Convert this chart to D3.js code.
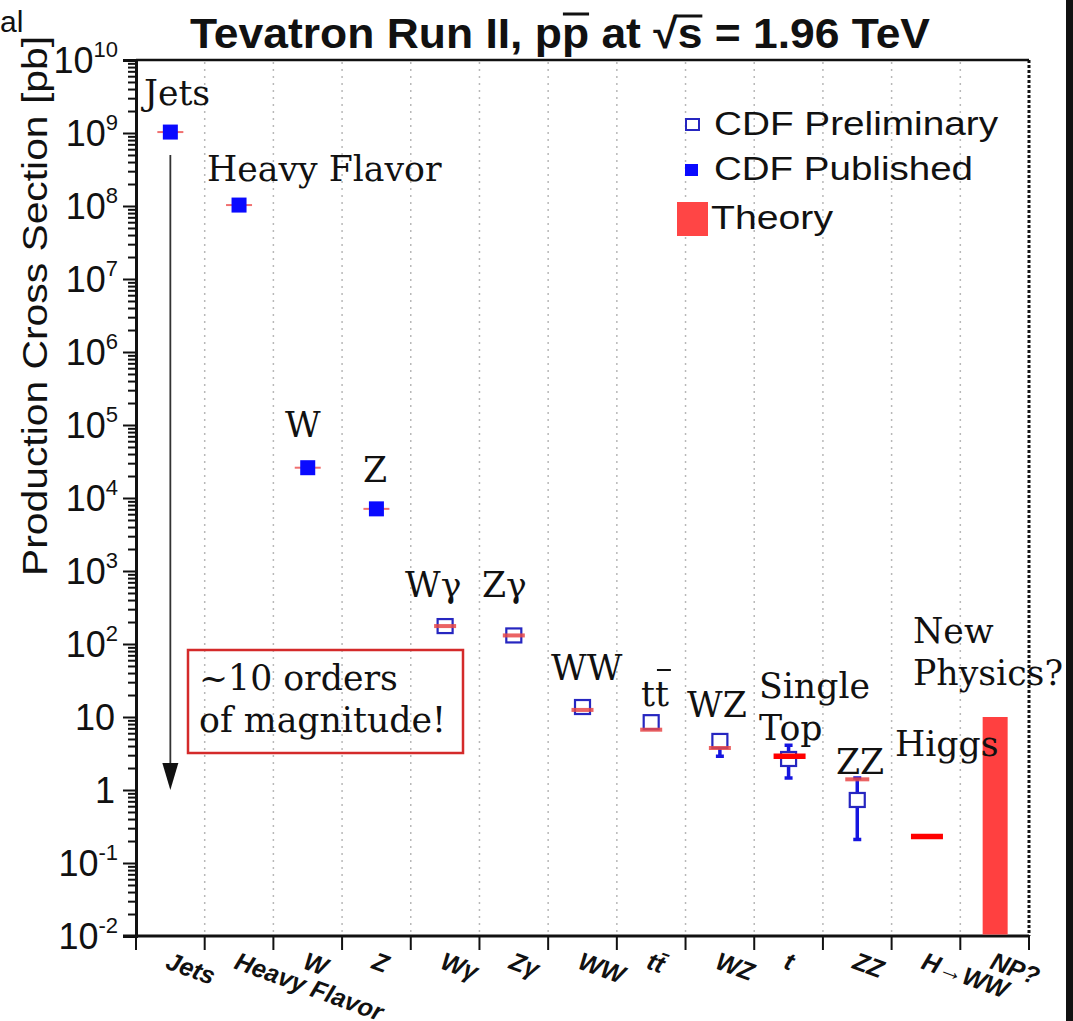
<!doctype html>
<html lang="en">
<head>
<meta charset="utf-8">
<title>Tevatron Run II cross sections</title>
<script src="https://cdn.jsdelivr.net/npm/d3@7"></script>
<style>
  body { margin: 0; background: #fff; }
  .serif { font-family: "DejaVu Serif", serif; fill: #111; font-size: 34.7px; }
  .sans { font-family: "Liberation Sans", Arial, sans-serif; fill: #111; }
</style>
</head>
<body>
<svg id="chart" width="1073" height="1021"></svg>
<script>
// processes along the x axis
var categories = ["Jets", "Heavy Flavor", "W", "Z", "Wγ", "Zγ", "WW", "tt̄", "WZ", "t", "ZZ", "H→WW", "NP?"];
// measured cross sections [pb] (null = no measurement)
var measured = [1.03e9, 1.03e8, 2.6e4, 7.1e3, 176, 131, 13.7, 8.5, 4.7, 2.66, 0.73, null, null];
var errLow   = [null, null, null, null, null, null, null, null, 2.9, 1.46, 0.21, null, null];
var errHigh  = [null, null, null, null, null, null, null, null, 5.2, 4.1, 1.46, null, null];
// true = CDF published, false = CDF preliminary
var published = [true, true, true, true, false, false, false, false, false, false, false, null, null];
// theory predictions [pb]
var theory = [1.03e9, 1.03e8, 2.6e4, 7.1e3, 176, 131, 12.5, 6.7, 3.76, 2.9, 1.4, 0.23, 10];
// y axis decades
var yExponents = [-2, -1, 0, 1, 2, 3, 4, 5, 6, 7, 8, 9, 10];

var svg = d3.select("#chart");

var x = d3.scaleBand().domain(categories).range([136, 1029]);
var y = d3.scaleLog().domain([1e-2, 1e10]).range([936, 60]);
var bw = x.bandwidth();
function cx(c) { return x(c) + bw / 2; }

// dotted vertical grid at bin edges
svg.append("g").selectAll("line")
  .data(categories.slice(1))
  .enter().append("line")
  .attr("x1", function(d) { return x(d); })
  .attr("x2", function(d) { return x(d); })
  .attr("y1", 62).attr("y2", 934)
  .style("stroke", "#b8b8b8")
  .style("stroke-width", 1.5)
  .style("stroke-dasharray", "2,5");

// frame
svg.append("line").attr("x1", 136).attr("x2", 1029).attr("y1", 60).attr("y2", 60)
  .style("stroke", "#111").style("stroke-width", 2.5);
svg.append("line").attr("x1", 1029).attr("x2", 1029).attr("y1", 60).attr("y2", 936)
  .style("stroke", "#111").style("stroke-width", 3).style("stroke-dasharray", "3,2");

// y axis: major + minor ticks
var majors = yExponents.map(function(e) { return Math.pow(10, e); });
var minors = [];
yExponents.slice(0, -1).forEach(function(e) {
  for (var k = 2; k <= 9; k++) minors.push(k * Math.pow(10, e));
});
var yMajor = svg.append("g").attr("transform", "translate(136,0)")
  .call(d3.axisLeft(y).tickValues(majors).tickSize(13).tickFormat(""));
var yMinor = svg.append("g").attr("transform", "translate(136,0)")
  .call(d3.axisLeft(y).tickValues(minors).tickSize(8).tickFormat(""));
svg.selectAll(".tick line").style("stroke", "#111").style("stroke-width", 2);
yMinor.select(".domain").remove();
yMajor.select(".domain").style("stroke", "#111").style("stroke-width", 3);

// y tick labels
var yLab = svg.append("g").attr("class", "sans");
yExponents.forEach(function(e) {
  var t = yLab.append("text")
    .attr("x", 118).attr("y", y(Math.pow(10, e)) + 13)
    .style("text-anchor", "end").style("font-size", "36px");
  if (e === 0) { t.attr("x", 115).text("1"); }
  else if (e === 1) { t.attr("x", 115).text("10"); }
  else {
    t.append("tspan").text("10");
    t.append("tspan").attr("dy", -16).style("font-size", "22px").text(e);
  }
});

// y axis title
svg.append("text").attr("class", "sans")
  .attr("transform", "translate(47,306) rotate(-90)")
  .style("text-anchor", "middle").style("font-size", "35px")
  .attr("textLength", 540).attr("lengthAdjust", "spacingAndGlyphs")
  .text("Production Cross Section [pb]");

// x axis
svg.append("line").attr("x1", 123).attr("x2", 1029).attr("y1", 936).attr("y2", 936)
  .style("stroke", "#111").style("stroke-width", 3);
var edges = categories.map(function(c) { return x(c); }).concat([x.range()[1]]);
svg.append("g").selectAll("line").data(edges).enter().append("line")
  .attr("x1", function(d) { return d; }).attr("x2", function(d) { return d; })
  .attr("y1", 936).attr("y2", 950)
  .style("stroke", "#111").style("stroke-width", 2);
svg.append("g").selectAll("text").data(categories).enter().append("text")
  .attr("class", "sans")
  .attr("transform", function(d) { return "translate(" + (cx(d) - 6) + ",968) rotate(20)"; })
  .style("font-size", "25px").style("font-weight", "bold").style("font-style", "italic")
  .text(function(d) { return d; });

// theory for published points sits behind the squares
var thin = categories.filter(function(c, i) { return published[i] === true; });
svg.append("g").selectAll("line").data(thin).enter().append("line")
  .attr("x1", function(d) { return cx(d) - 13; }).attr("x2", function(d) { return cx(d) + 13; })
  .attr("y1", function(d) { return y(theory[categories.indexOf(d)]); })
  .attr("y2", function(d) { return y(theory[categories.indexOf(d)]); })
  .style("stroke", "#f07070").style("stroke-width", 2);

// error bars
categories.forEach(function(c, i) {
  if (errLow[i] === null) return;
  var g = svg.append("g").style("stroke", "#1515e0").style("stroke-width", 3.5);
  g.append("line").attr("x1", cx(c)).attr("x2", cx(c)).attr("y1", y(errHigh[i])).attr("y2", y(errLow[i]));
  g.append("line").attr("x1", cx(c) - 4).attr("x2", cx(c) + 4).attr("y1", y(errHigh[i])).attr("y2", y(errHigh[i]));
  g.append("line").attr("x1", cx(c) - 4).attr("x2", cx(c) + 4).attr("y1", y(errLow[i])).attr("y2", y(errLow[i]));
});

// measurement squares
categories.forEach(function(c, i) {
  if (measured[i] === null) return;
  if (published[i]) {
    svg.append("rect").attr("x", cx(c) - 7.5).attr("y", y(measured[i]) - 7.5)
      .attr("width", 15).attr("height", 15).style("fill", "#0a0aff");
  } else {
    svg.append("rect").attr("x", cx(c) - 7.5).attr("y", y(measured[i]) - 7)
      .attr("width", 15).attr("height", 14)
      .style("fill", "#fff").style("stroke", "#2626c0").style("stroke-width", 2.2);
  }
});

// remaining theory marks
categories.forEach(function(c, i) {
  if (published[i] === true) return;
  if (c === "NP?") {
    svg.append("rect").attr("x", cx(c) - 12).attr("y", y(theory[i]))
      .attr("width", 25).attr("height", y(1e-2) - y(theory[i]) - 1.5)
      .style("fill", "#ff4040");
  } else if (c === "t" || c === "H→WW") {
    svg.append("line").attr("x1", cx(c) - 15).attr("x2", cx(c) + 17)
      .attr("y1", y(theory[i])).attr("y2", y(theory[i]))
      .style("stroke", "#ff0000").style("stroke-width", 5.5);
  } else {
    var w = c === "ZZ" ? 12 : 11;
    svg.append("line").attr("x1", cx(c) - w).attr("x2", cx(c) + w)
      .attr("y1", y(theory[i])).attr("y2", y(theory[i]))
      .style("stroke", "#e84848").style("stroke-width", 4).style("opacity", 0.85);
  }
});

// arrow spanning ~10 orders
var ax = cx("Jets");
svg.append("line").attr("x1", ax).attr("x2", ax).attr("y1", y(1e9) + 22).attr("y2", y(1) - 24)
  .style("stroke", "#333").style("stroke-width", 1.8);
svg.append("path")
  .attr("d", "M" + (ax - 8) + "," + (y(1) - 27) + "L" + (ax + 8) + "," + (y(1) - 27) + "L" + ax + "," + y(1) + "Z")
  .style("fill", "#111");

// process labels
var labelLayout = [
  ["Jets", 144, 105], ["Heavy Flavor", 207, 181], ["W", 285, 437], ["Z", 363, 482],
  ["Wγ", 405, 597], ["Zγ", 482, 597], ["WW", 551, 680], ["tt", 641, 706],
  ["WZ", 687, 717], ["Single", 759, 698], ["Top", 759, 740], ["ZZ", 836, 774],
  ["Higgs", 895, 756], ["New", 913, 643], ["Physics?", 913, 685]
];
labelLayout.forEach(function(l) {
  var t = svg.append("text").attr("class", "serif").attr("x", l[1]).attr("y", l[2]).text(l[0]);
  if (l[0] === "tt") {
    var node = t.node();
    var s = node.getStartPositionOfChar(1).x, e = node.getEndPositionOfChar(1).x;
    svg.append("line").attr("x1", s + 2).attr("x2", e + 2).attr("y1", l[2] - 36).attr("y2", l[2] - 36)
      .style("stroke", "#111").style("stroke-width", 2);
  }
});

// boxed note
svg.append("rect").attr("x", 188).attr("y", 650).attr("width", 275).attr("height", 103)
  .style("fill", "none").style("stroke", "#d42a2a").style("stroke-width", 2.5);
svg.append("text").attr("class", "serif").attr("x", 199).attr("y", 690).text("~10 orders");
svg.append("text").attr("class", "serif").attr("x", 199).attr("y", 732).text("of magnitude!");

// legend
svg.append("rect").attr("x", 686).attr("y", 119).attr("width", 13).attr("height", 11)
  .style("fill", "#fff").style("stroke", "#2626c0").style("stroke-width", 2);
svg.append("rect").attr("x", 685).attr("y", 164).attr("width", 13).attr("height", 12)
  .style("fill", "#0a0aff");
svg.append("rect").attr("x", 677).attr("y", 202).attr("width", 31).attr("height", 34)
  .style("fill", "#ff4545");
var legText = [["CDF Preliminary", 714, 135, 284], ["CDF Published", 714, 180, 259], ["Theory", 711, 229, 122]];
legText.forEach(function(l) {
  svg.append("text").attr("class", "sans").attr("x", l[1]).attr("y", l[2])
    .style("font-size", "33px").attr("textLength", l[3]).attr("lengthAdjust", "spacingAndGlyphs")
    .text(l[0]);
});

// title with overlines on the anti-proton and sqrt(s)
var title = svg.append("text").attr("class", "sans")
  .attr("x", 190).attr("y", 48)
  .style("font-size", "42px").style("font-weight", "bold")
  .attr("textLength", 740).attr("lengthAdjust", "spacingAndGlyphs")
  .text("Tevatron Run II, pp at √s = 1.96 TeV");
var tn = title.node();
var str = "Tevatron Run II, pp at √s = 1.96 TeV";
[str.indexOf("pp") + 1, str.indexOf("√") + 1].forEach(function(k, j) {
  var s = tn.getStartPositionOfChar(k).x, e = tn.getEndPositionOfChar(k).x;
  svg.append("line").attr("x1", j ? s - 3 : s + 1).attr("x2", e)
    .attr("y1", j ? 16 : 14).attr("y2", j ? 16 : 14)
    .style("stroke", "#111").style("stroke-width", 3);
});

// cropped fragment at the top-left edge
svg.append("text").attr("class", "sans").attr("x", 0).attr("y", 32)
  .style("font-size", "30px").text("al");
svg.append("rect").attr("x", 1066).attr("y", 0).attr("width", 7).attr("height", 1021).style("fill", "#111");
</script>
</body>
</html>
